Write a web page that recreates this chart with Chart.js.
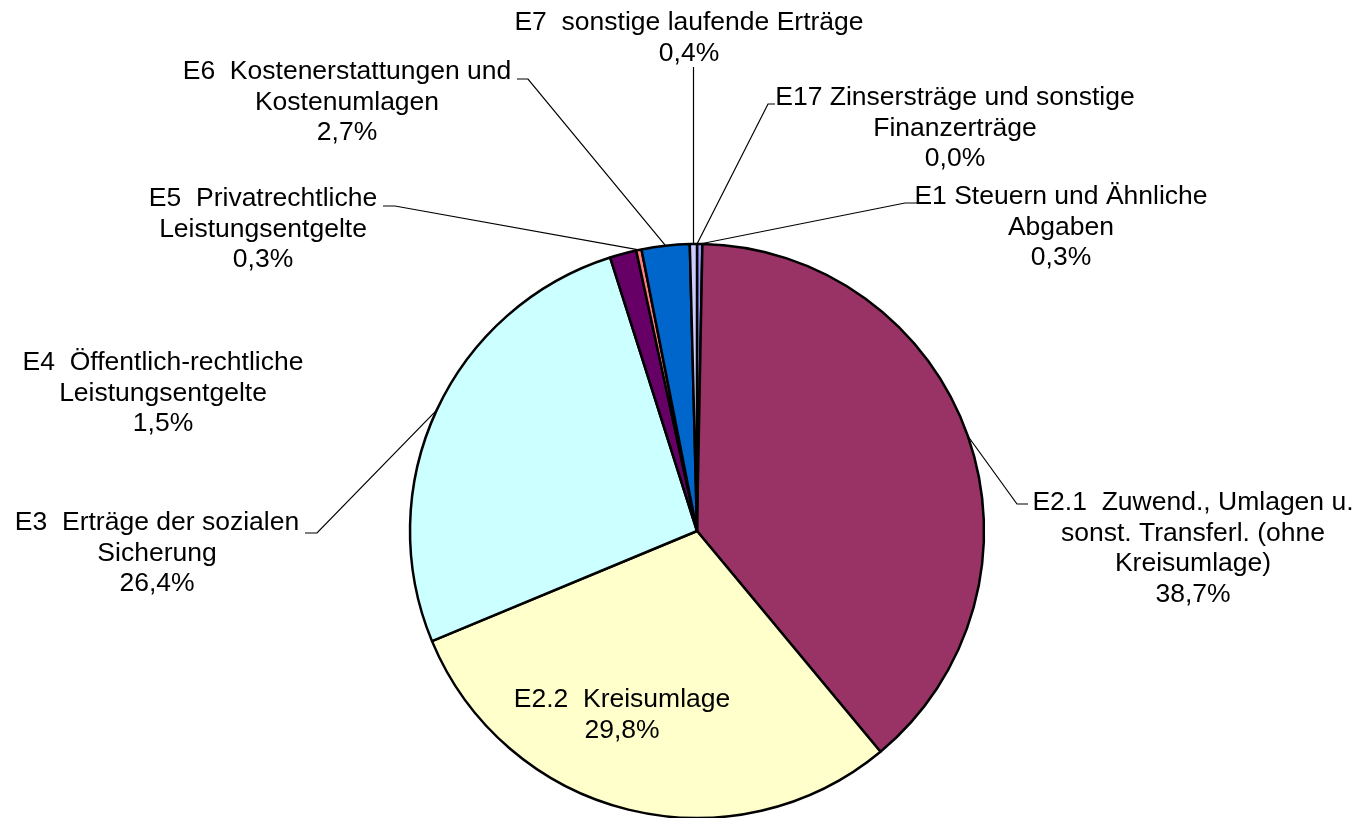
<!DOCTYPE html>
<html><head><meta charset="utf-8">
<script src="https://cdn.jsdelivr.net/npm/chart.js@4/dist/chart.umd.min.js"></script>
<style>html,body{margin:0;padding:0;background:#fff;overflow:hidden}#wrap{width:1362px;height:818px;position:relative}</style>
</head><body><div id="wrap"><canvas id="c" width="1362" height="818"></canvas></div>
<script>
// ---- data ----
const labelLines = [
  ["E1 Steuern und Ähnliche", "Abgaben"],
  ["E2.1  Zuwend., Umlagen u.", "sonst. Transferl. (ohne", "Kreisumlage)"],
  ["E2.2  Kreisumlage"],
  ["E3  Erträge der sozialen", "Sicherung"],
  ["E4  Öffentlich-rechtliche", "Leistungsentgelte"],
  ["E5  Privatrechtliche", "Leistungsentgelte"],
  ["E6  Kostenerstattungen und", "Kostenumlagen"],
  ["E7  sonstige laufende Erträge"],
  ["E17 Zinsersträge und sonstige", "Finanzerträge"]
];
const categories = labelLines.map(l => l.join(" "));
const shares = [0.3, 38.7, 29.8, 26.4, 1.5, 0.3, 2.7, 0.4, 0.0];
const colors = ["#9999FF", "#993366", "#FFFFCC", "#CCFFFF", "#660066", "#FF8080", "#0066CC", "#CCCCFF", "#000080"];

// ---- label layout (text positions and leader elbows) ----
const LINE_H = 30.5;
const layout = [
  {x: 1061, y: 197, elbow: [905, 203], end: [917, 203]},
  {x: 1193, y: 503, elbow: [1017, 504], end: [1028, 504]},
  {x: 622,  y: 700},
  {x: 157,  y: 523, elbow: [317, 533], end: [305, 533]},
  {x: 163,  y: 363},
  {x: 263,  y: 199, elbow: [395, 206], end: [383, 206]},
  {x: 347,  y: 72,  elbow: [528, 79], end: [517, 79]},
  {x: 689,  y: 23,  vertical: 67},
  {x: 955,  y: 98,  elbow: [768, 104], end: [775, 104]}
];

const fmt = v => v.toFixed(1).replace('.', ',') + '%';

const pieLabels = {
  id: 'pieLabels',
  afterDatasetsDraw(chart) {
    const ctx = chart.ctx;
    const meta = chart.getDatasetMeta(0);
    ctx.save();
    ctx.font = '26.5px "Liberation Sans", Arial, sans-serif';
    ctx.fillStyle = '#000';
    ctx.strokeStyle = '#000';
    ctx.lineWidth = 1.2;
    ctx.textAlign = 'center';
    ctx.textBaseline = 'middle';
    meta.data.forEach((arc, i) => {
      const L = layout[i];
      const mid = (arc.startAngle + arc.endAngle) / 2;
      const ax = arc.x + Math.cos(mid) * arc.outerRadius;
      const ay = arc.y + Math.sin(mid) * arc.outerRadius;
      if (L.elbow) {
        ctx.beginPath();
        ctx.moveTo(ax, ay);
        ctx.lineTo(L.elbow[0], L.elbow[1]);
        ctx.lineTo(L.end[0], L.end[1]);
        ctx.stroke();
      } else if (L.vertical !== undefined) {
        ctx.beginPath();
        ctx.moveTo(Math.round(ax) + 0.5, ay);
        ctx.lineTo(Math.round(ax) + 0.5, L.vertical);
        ctx.stroke();
      }
      const lines = labelLines[i].concat([fmt(shares[i])]);
      lines.forEach((t, k) => ctx.fillText(t, L.x, L.y + k * LINE_H));
    });
    ctx.restore();
  }
};

new Chart(document.getElementById('c'), {
  type: 'pie',
  data: {
    labels: categories,
    datasets: [{
      data: shares,
      backgroundColor: colors,
      borderColor: '#000',
      borderWidth: 2.5
    }]
  },
  options: {
    responsive: false,
    animation: false,
    radius: 287,
    clip: false,
    layout: {padding: {left: 32, right: 0, top: 244, bottom: 0}},
    plugins: {legend: {display: false}, tooltip: {enabled: false}}
  },
  plugins: [pieLabels]
});
</script>
</body></html>
